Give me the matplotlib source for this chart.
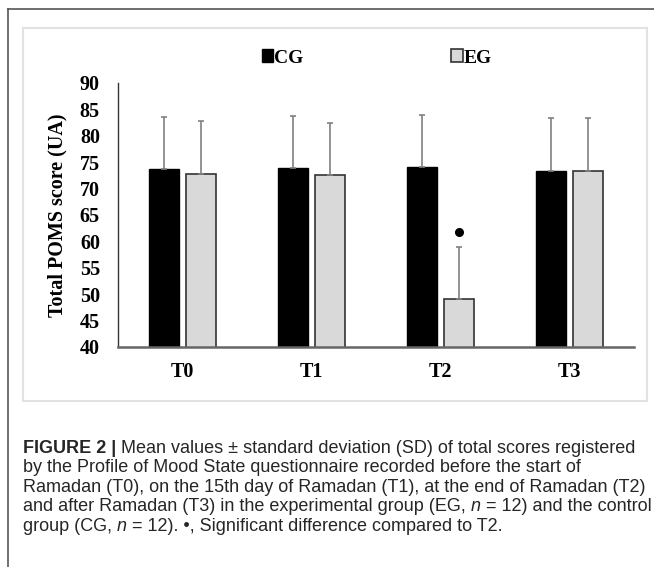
import matplotlib
matplotlib.use("Agg")
import matplotlib.pyplot as plt
from matplotlib.lines import Line2D
from matplotlib.patches import Rectangle
import numpy as np

# data
times = ["T0", "T1", "T2", "T3"]
cg_mean = [73.7, 73.9, 74.0, 73.4]
cg_sd = [9.9, 9.9, 9.9, 10.0]
eg_mean = [72.8, 72.5, 49.1, 73.4]
eg_sd = [10.0, 9.9, 9.9, 10.0]
sig_idx = 2          # EG at T2 marked with a dot
sig_y = 61.8

W, H = 654, 567
fig = plt.figure(figsize=(W / 100, H / 100), dpi=100)

serif = ["Liberation Serif", "DejaVu Serif"]
sans = "Liberation Sans"

def px(x, y):
    return x / W, 1 - y / H

# outer frame (left + top lines) and inner light panel
fig.add_artist(Line2D([px(8, 0)[0], px(8, 0)[0]], [px(0, 9)[1], 0], color="#555555", lw=1.2))
fig.add_artist(Line2D([px(8, 0)[0], 1], [px(0, 9)[1], px(0, 9)[1]], color="#555555", lw=1.2))
x0, y0 = px(23, 401)
x1, y1 = px(647, 28)
fig.add_artist(Rectangle((x0, y0), x1 - x0, y1 - y0, fill=False, ec="#e2e2e2", lw=1.5))

ax = fig.add_axes([118 / W, 1 - 347 / H, 516 / W, 264 / H])
x = np.arange(len(times))
w = 0.23
off = 0.145
err_kw = dict(ecolor="#808080", elinewidth=1.2, capsize=2.5, capthick=1.2)
ax.bar(x - off, cg_mean, w, color="black", edgecolor="black", lw=1,
       yerr=[np.zeros(4), cg_sd], error_kw=err_kw, label="CG", zorder=2)
ax.bar(x + off, eg_mean, w, color="#d9d9d9", edgecolor="#333333", lw=1.2,
       yerr=[np.zeros(4), eg_sd], error_kw=err_kw, label="EG", zorder=2)
ax.plot(x[sig_idx] + off, sig_y, "o", color="black", ms=5.5)

ax.set_ylim(40, 90)
ax.set_xlim(-0.5, 3.5)
ax.set_yticks(range(40, 91, 5))
ax.set_xticks(x)
ax.set_xticklabels(times)
for s in ["top", "right"]:
    ax.spines[s].set_visible(False)
ax.spines["left"].set_color("#333333")
ax.spines["left"].set_linewidth(1.0)
ax.spines["bottom"].set_color("#666666")
ax.spines["bottom"].set_linewidth(1.8)
ax.tick_params(length=0, labelsize=14.5, pad=13)
ax.tick_params(axis="x", pad=11)
for lab in ax.get_xticklabels() + ax.get_yticklabels():
    lab.set_fontfamily(serif)
    lab.set_fontweight("bold")
ax.set_ylabel("Total POMS score (UA)", fontsize=14.5, fontweight="bold",
              fontfamily=serif, labelpad=9)

leg = ax.legend(loc="center", bbox_to_anchor=(377 / W, 1 - 58 / H),
                bbox_transform=fig.transFigure, ncol=2, frameon=False,
                handlelength=0.6, handleheight=0.6, handletextpad=0.05,
                columnspacing=7.6, prop=dict(family=serif, weight="bold", size=14))

# caption, each line as (text, style) pieces: b = bold, i = italic, r = regular
cap_color = "#262626"
lines = [
    [("FIGURE 2 | ", "b"), ("Mean values \u00b1 standard deviation (SD) of total scores registered", "r")],
    [("by the Profile of Mood State questionnaire recorded before the start of", "r")],
    [("Ramadan (T0), on the 15th day of Ramadan (T1), at the end of Ramadan (T2)", "r")],
    [("and after Ramadan (T3) in the experimental group (EG, ", "r"), ("n", "i"),
     (" = 12) and the control", "r")],
    [("group (CG, ", "r"), ("n", "i"), (" = 12). \u2022, Significant difference compared to T2.", "r")],
]
ys = [453, 472, 492, 511, 531]
r = fig.canvas.get_renderer()

# pick the caption size so the first line spans like the reference (~613 px)
probe = fig.text(0, 0, "".join(s for s, _ in lines[0]), fontsize=12, fontfamily=sans)
pw = probe.get_window_extent(r).width
probe.remove()
cap_fs = 12 * 613 / pw

for pieces, yy in zip(lines, ys):
    xs = 23
    for s, st in pieces:
        t = fig.text(xs / W, 1 - yy / H, s, fontsize=cap_fs, fontfamily=sans,
                     fontweight="bold" if st == "b" else "normal",
                     fontstyle="italic" if st == "i" else "normal",
                     color=cap_color, va="baseline")
        xs += t.get_window_extent(r).width

fig.savefig("out.png", dpi=100)
